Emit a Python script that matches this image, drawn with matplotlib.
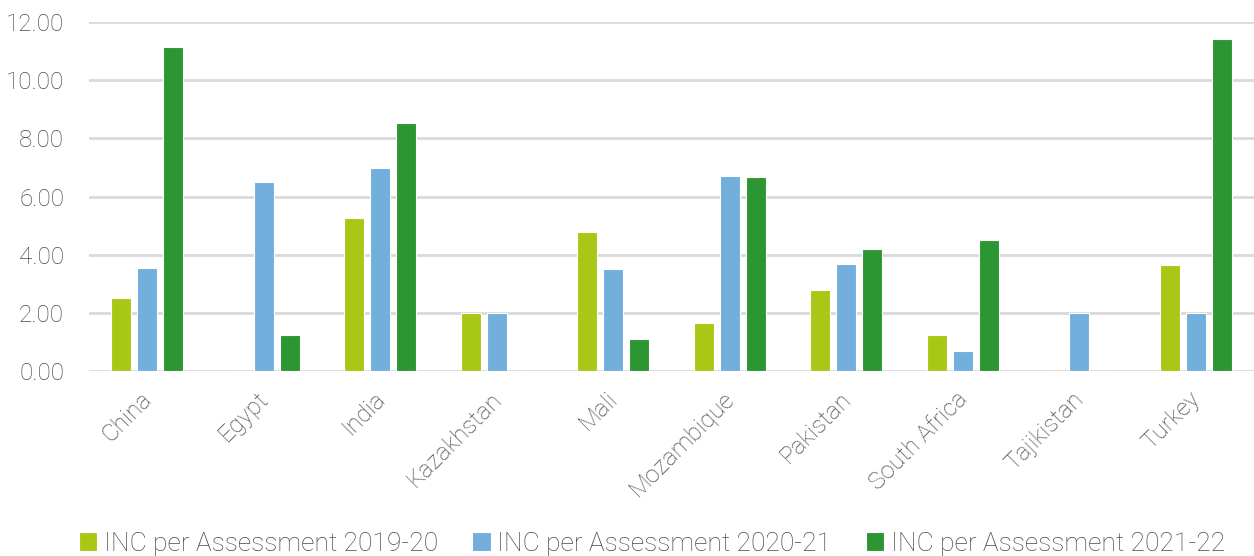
import matplotlib
matplotlib.use("Agg")
import matplotlib.pyplot as plt
import numpy as np

countries = ["China", "Egypt", "India", "Kazakhstan", "Mali", "Mozambique",
             "Pakistan", "South Africa", "Tajikistan", "Turkey"]
inc_2019_20 = [2.51, 0.0, 5.26, 2.00, 4.78, 1.65, 2.79, 1.24, 0.0, 3.65]
inc_2020_21 = [3.54, 6.50, 6.98, 2.00, 3.50, 6.70, 3.68, 0.69, 2.00, 2.00]
inc_2021_22 = [11.14, 1.24, 8.53, 0.0, 1.10, 6.67, 4.20, 4.50, 0.0, 11.42]
series_labels = ["INC per Assessment 2019-20", "INC per Assessment 2020-21",
                 "INC per Assessment 2021-22"]
colors = ["#A9C715", "#72AFDC", "#2C9632"]
yticks = [0, 2, 4, 6, 8, 10, 12]

plt.rcParams["font.family"] = ["Roboto", "DejaVu Sans"]
text_color = "#4A4A4A"

fig = plt.figure(figsize=(12.54, 5.56), dpi=100)
ax = fig.add_axes([0.071, 0.3327, 0.929, 0.6277])

x = np.arange(len(countries))
step = 0.223
width = 0.175
for i, (vals, lab, c) in enumerate(zip([inc_2019_20, inc_2020_21, inc_2021_22],
                                       series_labels, colors)):
    ax.bar(x + (i - 1) * step, vals, width, color=c, label=lab,
           edgecolor="white", linewidth=0.8, zorder=3)

ax.set_xlim(-0.5, len(countries) - 0.5)
ax.set_ylim(0, 12)
ax.set_yticks(yticks)
ax.set_yticklabels([f"{v:.2f}" for v in yticks], fontsize=17.5,
                   color=text_color, fontweight="light")
# rotated labels sit slightly left of the group centre
ax.set_xticks(x - 0.06)
ax.set_xticklabels(countries, rotation=45, ha="right", va="top",
                   rotation_mode="anchor", fontsize=17.5, color=text_color,
                   fontweight="light")
ax.tick_params(axis="both", length=0)
ax.tick_params(axis="y", pad=18)
ax.tick_params(axis="x", pad=12)
ax.grid(axis="y", color="#D9D9D9", linewidth=2, zorder=0)
for s in ax.spines.values():
    s.set_visible(False)

leg = fig.legend(loc="lower center", bbox_to_anchor=(0.52, -0.042), ncol=3,
                 frameon=False, handlelength=0.7, handleheight=0.7,
                 handletextpad=0.25, columnspacing=1.3,
                 prop={"weight": "light", "size": 19})
for t in leg.get_texts():
    t.set_color(text_color)

fig.savefig("out.png", dpi=100)
